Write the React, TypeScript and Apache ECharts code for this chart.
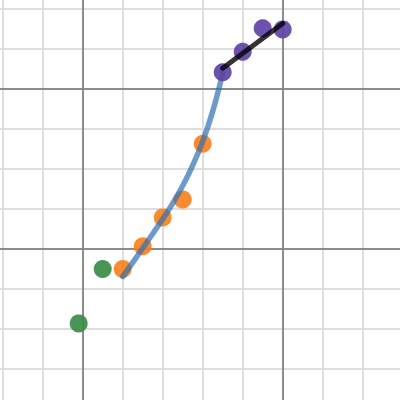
import React, { useEffect, useRef } from "react";
import * as echarts from "echarts";

// Data in grid units (1 unit = one minor grid square)
const greenX = [-0.1, 0.5];
const greenY = [-1.86, -0.5];

const orangeX = [1.0, 1.5, 2.0, 2.5, 3.0];
const orangeY = [-0.5, 0.07, 0.79, 1.24, 2.63];

const purpleX = [3.5, 4.0, 4.5, 5.0];
const purpleY = [4.42, 4.93, 5.52, 5.49];

const curveX = [1.0, 1.25, 1.5, 1.75, 2.0, 2.25, 2.5, 2.75, 3.0, 3.25, 3.5];
const curveY = [-0.69, -0.34, 0.02, 0.38, 0.75, 1.14, 1.58, 2.09, 2.69, 3.44, 4.39];

const fitX = [3.5, 5.0];
const fitY = [4.52, 5.64];

const minorX = [-2, -1, 1, 2, 3, 4, 6, 7];
const minorY = [-3, -2, -1, 1, 2, 3, 5, 6];
const majorX = [0, 5];
const majorY = [0, 4];

const zip = (xs: number[], ys: number[]) => xs.map((x, i) => [x, ys[i]]);

export default function App() {
  const ref = useRef<HTMLDivElement>(null);
  useEffect(() => {
    if (!ref.current) return;
    const chart = echarts.init(ref.current, null, { renderer: "svg" });
    const hidden = {
      axisLine: { show: false },
      axisTick: { show: false },
      axisLabel: { show: false },
      splitLine: { show: false },
    };
    const gridLines = (xs: number[], ys: number[], color: string, z: number) => ({
      type: "line",
      data: [],
      silent: true,
      z,
      markLine: {
        silent: true,
        z,
        symbol: "none",
        label: { show: false },
        lineStyle: { color, width: 2, type: "solid" },
        data: [...xs.map((v) => ({ xAxis: v })), ...ys.map((v) => ({ yAxis: v }))],
      },
    });
    chart.setOption({
      animation: false,
      backgroundColor: "#ffffff",
      grid: { left: 0, top: 0, right: 0, bottom: 0, containLabel: false },
      xAxis: { type: "value", min: -2.0675, max: 7.9325, ...hidden },
      yAxis: { type: "value", min: -3.775, max: 6.225, ...hidden },
      series: [
        gridLines(minorX, minorY, "#dedede", 1),
        gridLines(majorX, majorY, "#8c8c8c", 2),
        {
          type: "scatter",
          data: zip(greenX, greenY),
          symbolSize: 18,
          itemStyle: { color: "#388c46", opacity: 0.92 },
          z: 10,
        },
        {
          type: "scatter",
          data: zip(orangeX, orangeY),
          symbolSize: 18,
          itemStyle: { color: "#fa7e19", opacity: 0.9 },
          z: 10,
        },
        {
          type: "line",
          data: zip(curveX, curveY),
          smooth: 0.4,
          showSymbol: false,
          lineStyle: { color: "#2d70b3", opacity: 0.7, width: 5.5, cap: "round" },
          z: 11,
        },
        {
          type: "scatter",
          data: zip(purpleX, purpleY),
          symbolSize: 18,
          itemStyle: { color: "#6042a6", opacity: 0.92 },
          z: 12,
        },
        {
          type: "line",
          data: zip(fitX, fitY),
          showSymbol: false,
          lineStyle: { color: "#000000", opacity: 0.8, width: 5, cap: "round" },
          z: 13,
        },
      ],
    });
    return () => chart.dispose();
  }, []);
  return (
    <div
      ref={ref}
      style={{ position: "absolute", left: 0, top: 0, width: 400, height: 400 }}
    />
  );
}
